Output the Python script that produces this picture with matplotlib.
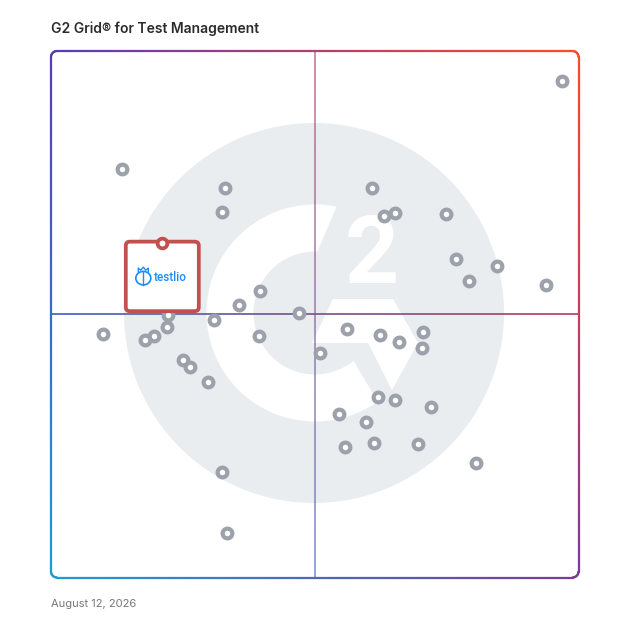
import numpy as np
import matplotlib
matplotlib.use("Agg")
import matplotlib.pyplot as plt
import matplotlib.transforms as mtransforms
from matplotlib.collections import LineCollection
from matplotlib.patches import Circle, Wedge, Polygon, FancyBboxPatch, Ellipse
from matplotlib.colors import to_rgb

# G2 grid positions (0-100 scale): x = satisfaction, y = market presence
satisfaction = [96.9, 13.4, 33.0, 32.5, 39.6, 35.6, 47.0, 30.9, 22.2, 21.9,
                19.5, 17.8, 9.9, 39.5, 25.1, 26.4, 29.8, 32.5, 33.4, 51.0,
                60.9, 63.1, 65.3, 74.8, 76.7, 84.5, 79.2, 93.8, 56.1, 62.3,
                66.0, 70.5, 70.4, 61.9, 65.2, 72.1, 54.6, 59.7, 55.7, 61.2,
                69.6, 80.6]
presence = [94.3, 77.6, 74.0, 69.4, 54.4, 51.8, 50.2, 48.9, 49.9, 47.6,
            45.8, 45.1, 46.2, 45.9, 41.4, 40.0, 37.1, 20.1, 8.5, 42.6,
            74.0, 68.7, 69.3, 69.0, 60.4, 59.1, 56.3, 55.6, 47.2, 46.1,
            44.7, 46.6, 43.6, 34.2, 33.7, 32.4, 31.0, 29.5, 24.7, 25.6,
            25.3, 21.7]
highlight_name = "testlio"
highlight_x = 21.1
highlight_y = 63.6

title = "G2 Grid\u00ae for Test Management"
date_label = "August 12, 2026"

W = 628
L, R, T, B = 51, 578.5, 51, 577.5   # grid box in pixels (y down)

TL, TR, BL, BR = [np.array(to_rgb(c)) for c in ("#5a3cb4", "#ff4a2b", "#1f9bd7", "#7b3a98")]


def grad(u, v):
    u = np.asarray(u, float)[:, None]
    v = np.asarray(v, float)[:, None]
    top = TL * (1 - u) + TR * u
    bot = BL * (1 - u) + BR * u
    return np.clip(top * (1 - v) + bot * v, 0, 1)


def densify(pts, step=2.0):
    out = [pts[0]]
    for p, q in zip(pts[:-1], pts[1:]):
        d = np.hypot(q[0] - p[0], q[1] - p[1])
        n = max(1, int(d / step))
        for k in range(1, n + 1):
            t = k / n
            out.append((p[0] + (q[0] - p[0]) * t, p[1] + (q[1] - p[1]) * t))
    return np.array(out)


fig = plt.figure(figsize=(6.28, 6.28), dpi=100)

# background: G2 watermark
deco = fig.add_axes([0, 0, 1, 1], zorder=0)
deco.set_xlim(0, W)
deco.set_ylim(W, 0)
deco.axis("off")
wm = "#eaedf0"
deco.add_patch(Circle((314, 313), 190, fc=wm, ec="none"))
deco.add_patch(Wedge((315, 313), 108.5, 0, 360, width=47, fc="white", ec="none"))
deco.add_patch(Polygon([(348, 180), (317.3, 251.7), (305, 300), (338, 335),
                        (353, 360), (375, 397), (392, 425), (440, 420), (430, 200)],
                       fc=wm, ec="none"))
deco.add_patch(Polygon([(333, 299), (393, 299), (418, 343), (392, 390),
                        (368, 343), (312, 343)], fc="white", ec="none"))
deco.text(372, 283, "2", color="white", fontsize=68, fontweight="bold",
          family="Roboto", ha="center", va="baseline")

# data axes
ax = fig.add_axes([L / W, (W - B) / W, (R - L) / W, (B - T) / W], zorder=1)
ax.set_xlim(0, 100)
ax.set_ylim(0, 100)
ax.axis("off")

# quadrant dividers with the same gradient
s = np.linspace(0, 100, 201)
vseg = np.array([[[50, a], [50, b]] for a, b in zip(s[:-1], s[1:])])
hseg = np.array([[[a, 50], [b, 50]] for a, b in zip(s[:-1], s[1:])])
vcol = grad(np.full(200, 0.5), 1 - (s[:-1] + 0.25) / 100)
hcol = grad((s[:-1] + 0.25) / 100, np.full(200, 0.5))
ax.add_collection(LineCollection(vseg, colors=vcol, linewidths=1.4, alpha=0.6,
                                 capstyle="butt", zorder=2))
ax.add_collection(LineCollection(hseg, colors=hcol, linewidths=1.4, alpha=0.9,
                                 capstyle="butt", zorder=2))

ax.plot(satisfaction, presence, "o", ms=7.0, mew=3.0, mfc="white",
        mec="#9da1ac", zorder=3, clip_on=False)

# highlighted product card
red = "#c1504f"
card = fig.dpi_scale_trans + mtransforms.ScaledTranslation(highlight_x, highlight_y, ax.transData)
ax.add_patch(FancyBboxPatch((-0.365, -0.685), 0.73, 0.695,
                            boxstyle="round,pad=0,rounding_size=0.04",
                            fc="white", ec=red, lw=2.7, transform=card, zorder=5))
ax.plot(highlight_x, highlight_y, "o", ms=7.0, mew=2.7, mfc="white", mec=red,
        zorder=6, clip_on=False)
blue = "#1a8cff"
ax.add_patch(Ellipse((-0.19, -0.355), 0.15, 0.135, fc="none", ec=blue, lw=1.2,
                     transform=card, zorder=6))
ax.plot([-0.19, -0.19], [-0.29, -0.42], color=blue, lw=1.0, transform=card, zorder=6)
ax.plot([-0.24, -0.24, -0.215, -0.19, -0.165, -0.14, -0.14],
        [-0.295, -0.255, -0.275, -0.245, -0.275, -0.255, -0.295],
        color=blue, lw=1.0, transform=card, zorder=6)
ax.text(-0.085, -0.35, highlight_name, color=blue, fontsize=8.4, family="Roboto",
        fontweight="medium", ha="left", va="center", transform=card, zorder=6)

# gradient border (rounded rectangle)
frame = fig.add_axes([0, 0, 1, 1], zorder=2)
frame.set_xlim(0, W)
frame.set_ylim(W, 0)
frame.axis("off")
r = 6
corners = [(R - r, T + r, -90, 0), (R - r, B - r, 0, 90),
           (L + r, B - r, 90, 180), (L + r, T + r, 180, 270)]
pts = []
for cx, cy, a0, a1 in corners:
    a = np.radians(np.linspace(a0, a1, 10))
    pts += list(zip(cx + r * np.cos(a), cy + r * np.sin(a)))
pts.append(pts[0])
p = densify(pts)
segs = np.stack([p[:-1], p[1:]], axis=1)
mid = segs.mean(axis=1)
bcol = grad((mid[:, 0] - L) / (R - L), (mid[:, 1] - T) / (B - T))
frame.add_collection(LineCollection(segs, colors=bcol, linewidths=1.6, capstyle="round"))

fig.text(L / W, 1 - 29 / W, title, fontsize=10, fontweight="semibold",
         family="Inter", color="#2b2b2b", ha="left", va="center")
fig.text(L / W, 1 - 604 / W, date_label, fontsize=8, family="Inter",
         color="#777777", ha="left", va="center")

fig.savefig("out.png", dpi=100)
